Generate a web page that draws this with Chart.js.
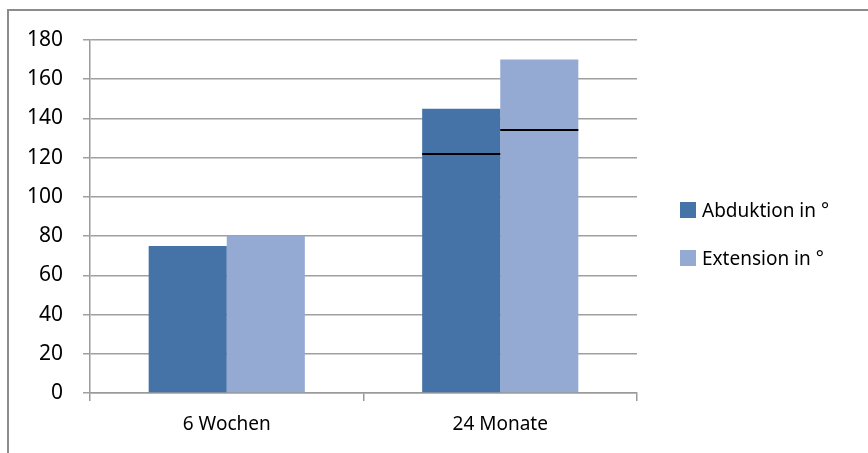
<!DOCTYPE html>
<html lang="de">
<head>
    <meta charset="UTF-8">
    <title>Abduktion und Extension</title>
    <script src="https://cdn.jsdelivr.net/npm/chart.js"></script>
    <style>
        body { margin: 0; background: #fff; }
        .wrap { position: relative; width: 868px; height: 453px; }
        .frame { position: absolute; left: 7px; top: 9px; width: 900px; height: 500px;
                 border-left: 2px solid #8c8c8c; border-top: 2px solid #8c8c8c; }
        canvas { position: absolute; left: 0; top: 0; }
        .legend { position: absolute; left: 680px; top: 198px; font-family: 'Noto Sans', sans-serif;
                  font-size: 19px; color: #000; }
        .legend div { display: flex; align-items: center; height: 24px; margin-bottom: 24px; }
        .legend span.box { width: 16px; height: 16px; margin-right: 6px; display: inline-block; }
    </style>
</head>
<body>
<div class="wrap">
    <div class="frame"></div>
    <canvas id="chart" width="868" height="453"></canvas>
    <div class="legend" id="legend"></div>
</div>
<script>
    // Werte
    const kategorien = ['6 Wochen', '24 Monate'];
    const abduktion = [75, 145];
    const extension = [80, 170];
    // schwarze Markierung innerhalb der Balken (nur 24 Monate)
    const abduktionMarke = [null, 122];
    const extensionMarke = [null, 134];
    const yTicks = [0, 20, 40, 60, 80, 100, 120, 140, 160, 180];

    const farben = ['#4573a7', '#95aad3'];
    const namen = ['Abduktion in °', 'Extension in °'];
    const marken = [abduktionMarke, extensionMarke];

    // Legende als HTML
    const legend = document.getElementById('legend');
    namen.forEach((n, i) => {
        const row = document.createElement('div');
        row.innerHTML = '<span class="box" style="background:' + farben[i] + '"></span>' + n;
        legend.appendChild(row);
    });

    // Linien für die Markierungen zeichnen
    const markenPlugin = {
        id: 'marken',
        afterDatasetsDraw(chart) {
            const ctx = chart.ctx;
            const y = chart.scales.y;
            ctx.save();
            ctx.strokeStyle = '#000';
            ctx.lineWidth = 2;
            chart.data.datasets.forEach((ds, i) => {
                const meta = chart.getDatasetMeta(i);
                meta.data.forEach((bar, j) => {
                    const v = marken[i][j];
                    if (v == null) return;
                    const py = Math.round(y.getPixelForValue(v));
                    ctx.beginPath();
                    ctx.moveTo(bar.x - bar.width / 2, py);
                    ctx.lineTo(bar.x + bar.width / 2, py);
                    ctx.stroke();
                });
            });
            ctx.restore();
        }
    };

    Chart.defaults.font.family = "'Noto Sans', sans-serif";
    Chart.defaults.font.size = 19;
    Chart.defaults.color = '#000';

    new Chart(document.getElementById('chart'), {
        type: 'bar',
        data: {
            labels: kategorien,
            datasets: [
                { label: namen[0], data: abduktion, backgroundColor: farben[0] },
                { label: namen[1], data: extension, backgroundColor: farben[1] }
            ]
        },
        options: {
            responsive: false,
            animation: false,
            events: [],
            categoryPercentage: 0.571,
            barPercentage: 1,
            layout: { padding: { left: 0, top: 40, right: 231, bottom: 0 } },
            plugins: { legend: { display: false }, tooltip: { enabled: false } },
            scales: {
                x: {
                    afterFit: s => { s.height = 60; },
                    grid: { offset: true, drawOnChartArea: false, tickLength: 8, color: '#9a9a9a', lineWidth: 1.5 },
                    border: { color: '#9a9a9a', width: 1.5 },
                    ticks: { padding: 12 }
                },
                y: {
                    min: 0,
                    max: 180,
                    afterFit: s => { s.width = 90; },
                    afterBuildTicks: s => { s.ticks = yTicks.map(v => ({ value: v })); },
                    grid: { tickLength: 7, color: '#a0a0a0', lineWidth: 1.5 },
                    border: { color: '#9a9a9a', width: 1.5 },
                    ticks: { padding: 20, font: { size: 21 } }
                }
            }
        },
        plugins: [markenPlugin]
    });
</script>
</body>
</html>
